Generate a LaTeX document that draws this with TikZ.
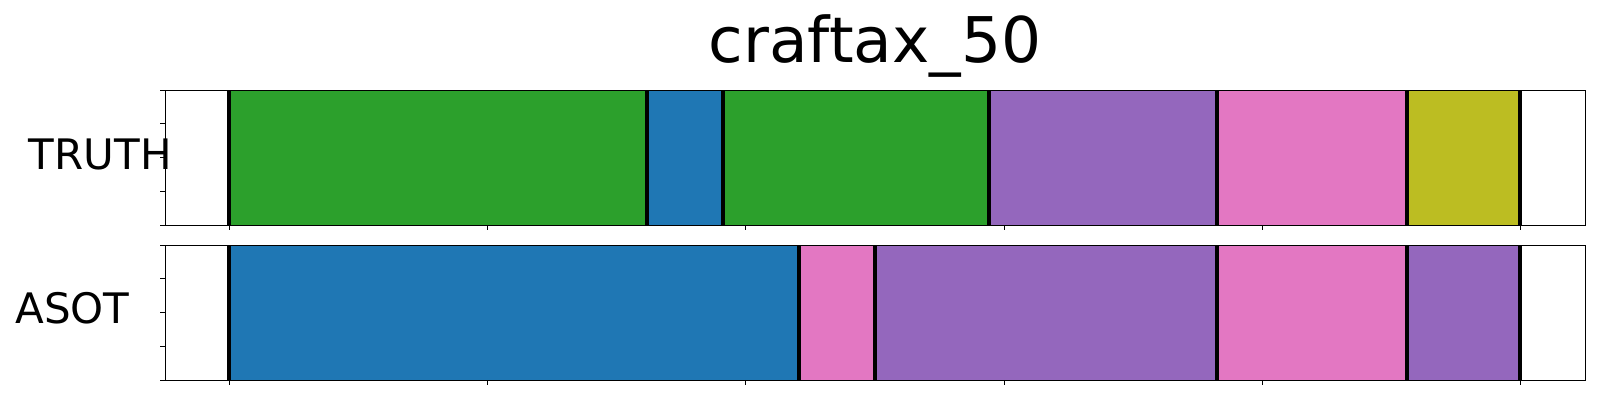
\documentclass[tikz,border=0pt]{standalone}
\usepackage{fontspec}
\setmainfont{DejaVu Sans}
\definecolor{tgreen}{HTML}{2CA02C}
\definecolor{tblue}{HTML}{1F77B4}
\definecolor{tpurple}{HTML}{9467BD}
\definecolor{tpink}{HTML}{E377C2}
\definecolor{tolive}{HTML}{BCBD22}
\tikzset{
  seg/.style={fill=#1, draw=#1!85!black, line width=0.3pt},
  bound/.style={draw=black, line width=2pt},
  spine/.style={draw=black, line width=0.7pt},
  tick/.style={draw=black, line width=0.5pt},
  lbl/.style={inner sep=0pt, font=\fontsize{21pt}{25pt}\selectfont, anchor=base west},
}
\begin{document}
\begin{tikzpicture}[x=0.5pt,y=-0.5pt]
\useasboundingbox (0,0) rectangle (1600,400);
% title
\node[inner sep=0pt, anchor=base, font=\fontsize{31.5pt}{36pt}\selectfont] (title) at (875,62.7) {craftax\_50};
% TRUTH row
\foreach \a/\b/\c in {229/647/tgreen, 647/723/tblue, 723/988.7/tgreen, 988.7/1217/tpurple, 1217/1407/tpink, 1407/1520/tolive}
  \path[seg=\c] (\a,90.3) rectangle (\b,225.3);
\foreach \x in {229,647,723,988.7,1217,1407,1520}
  \draw[bound] (\x,90.3) -- (\x,225.3);
% ASOT row
\foreach \a/\b/\c in {229/799/tblue, 799/875/tpink, 875/1217/tpurple, 1217/1407/tpink, 1407/1520/tpurple}
  \path[seg=\c] (\a,245.3) rectangle (\b,380.3);
\foreach \x in {229,799,875,1217,1407,1520}
  \draw[bound] (\x,245.3) -- (\x,380.3);
% frames
\draw[spine] (165.3,90.3) rectangle (1585.3,225.3);
\draw[spine] (165.3,245.3) rectangle (1585.3,380.3);
% y ticks
\foreach \y in {90.3,124,157.8,191.5,225.3,245.3,279,312.8,346.5,380.3}
  \draw[tick] (165.3,\y) -- ++(-5,0);
% x ticks
\foreach \x in {229.5,487.7,745.9,1004.1,1262.3,1520.5}{
  \draw[tick] (\x,225.3) -- ++(0,5);
  \draw[tick] (\x,380.3) -- ++(0,5);
}
% labels
\node[lbl] (truth) at (28.5,170) {TRUTH};
\node[lbl] (asot) at (15,323.3) {ASOT};
\end{tikzpicture}
\end{document}
